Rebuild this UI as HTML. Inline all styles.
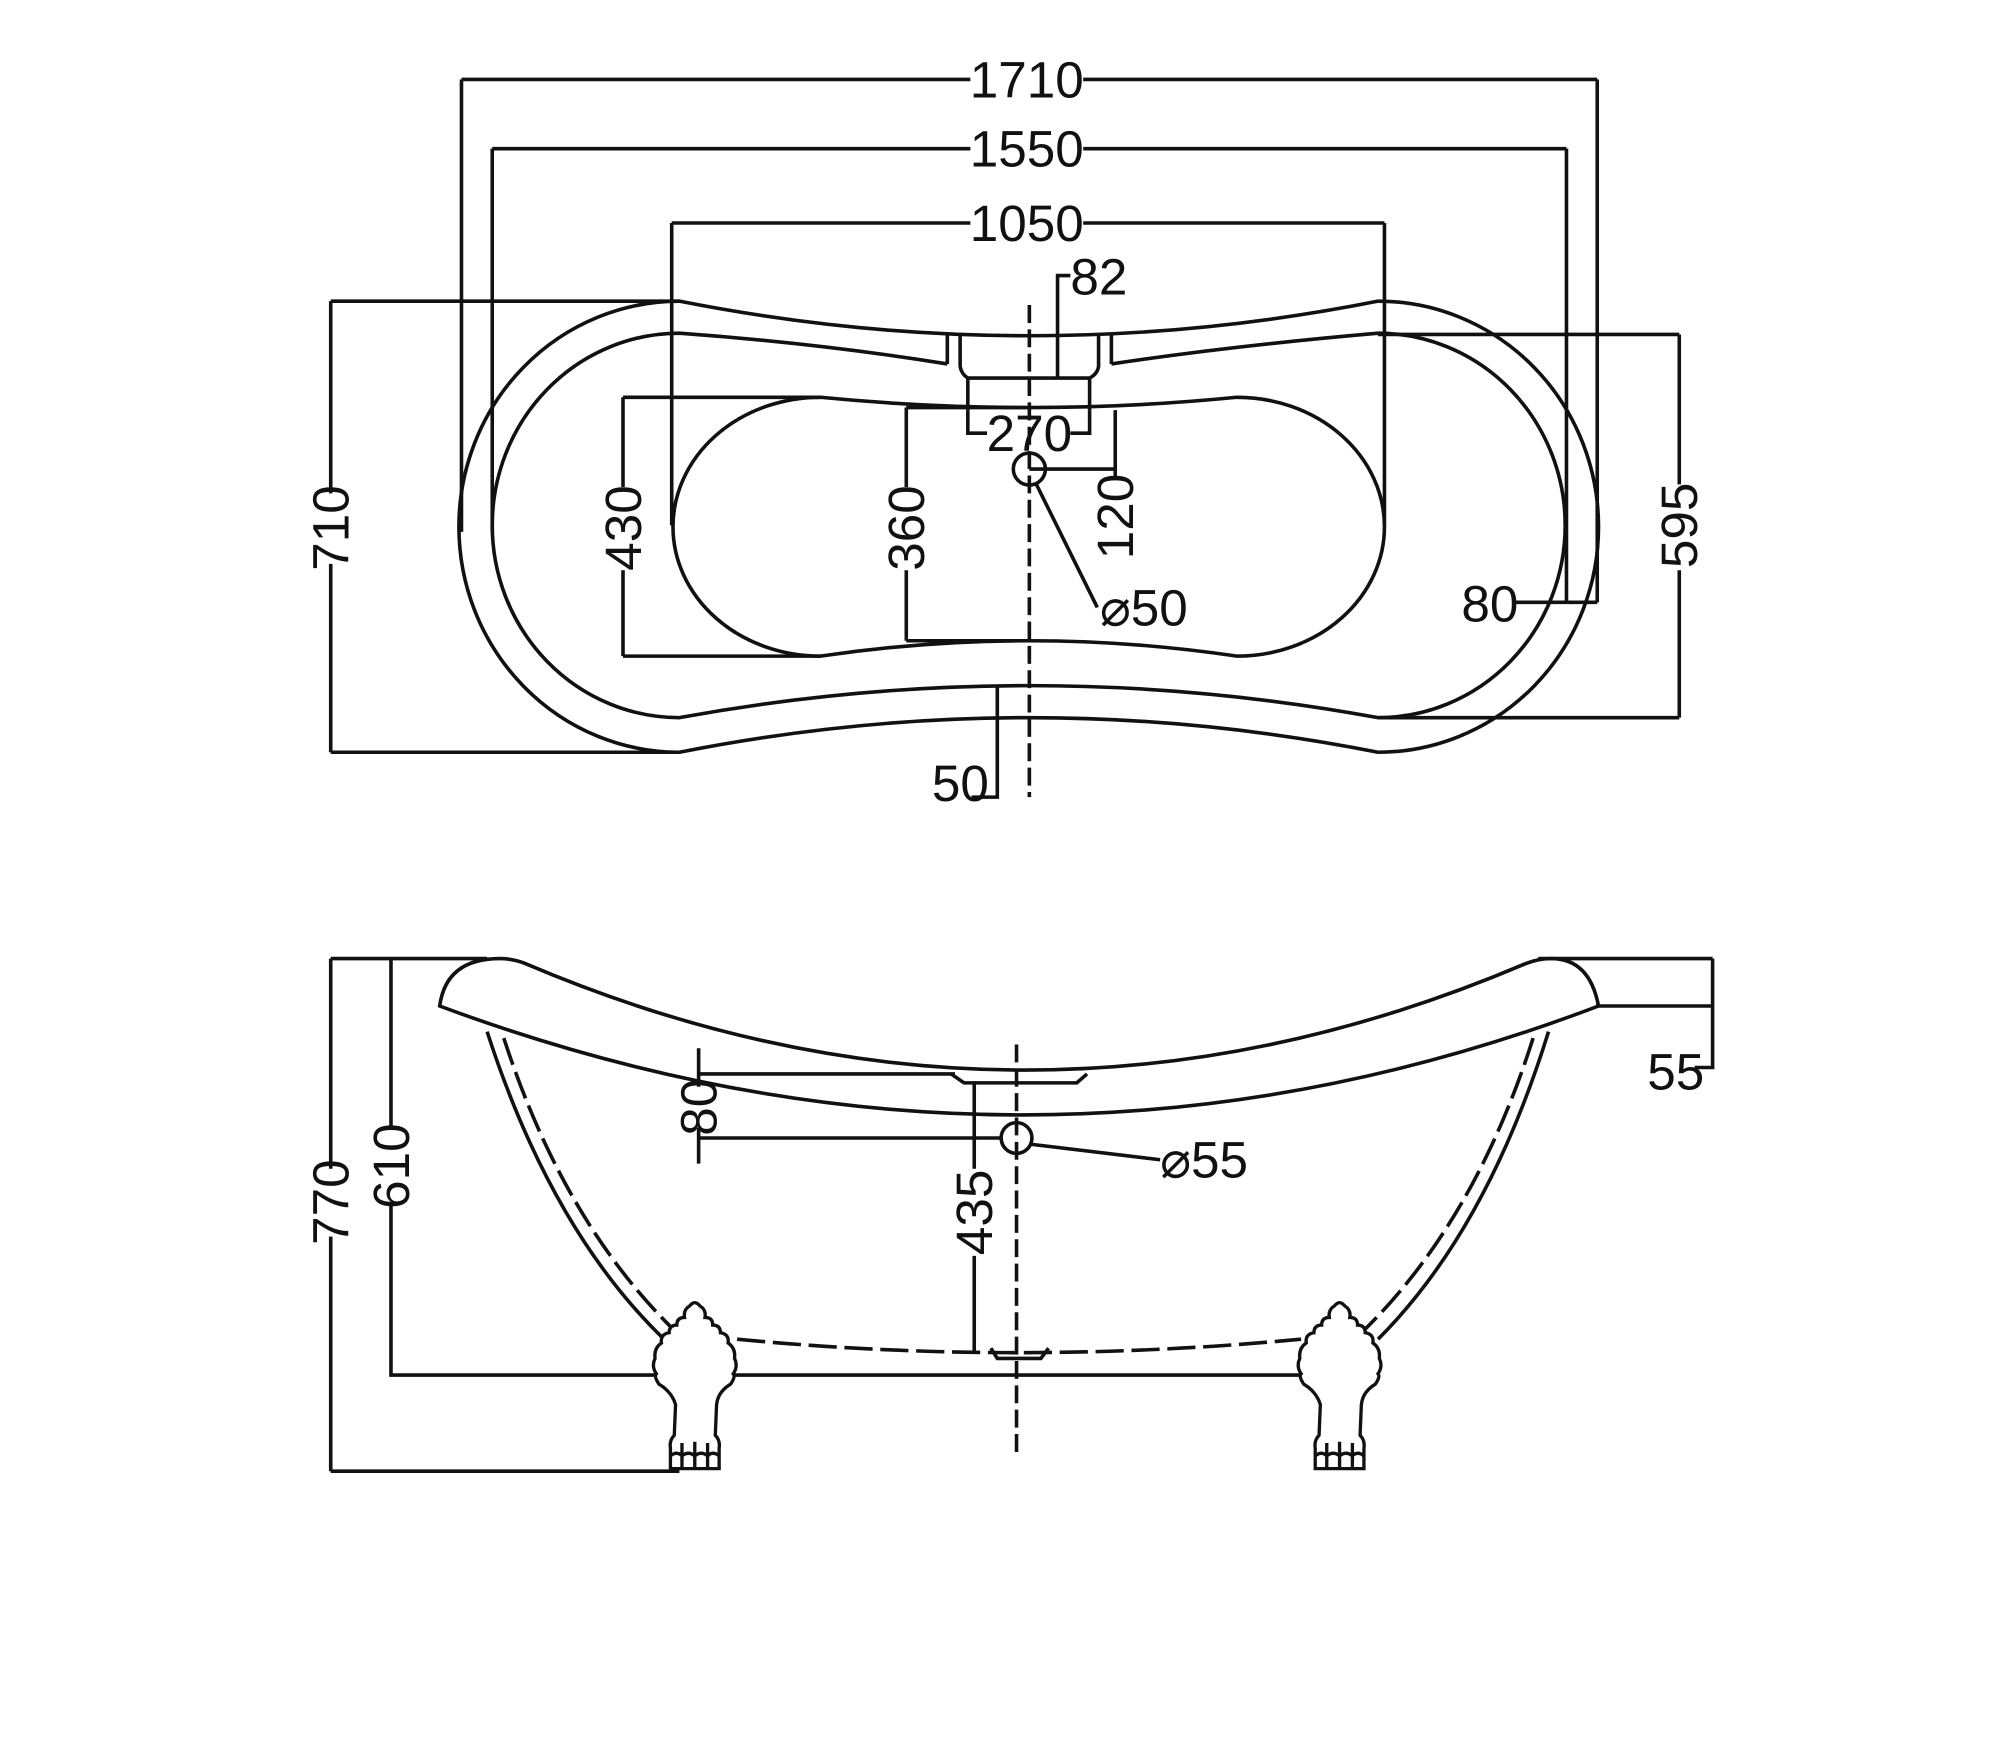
<!DOCTYPE html>
<html><head><meta charset="utf-8"><style>
html,body{margin:0;padding:0;background:#fff}
svg{display:block}
text{font-family:"Liberation Sans Narrow","Liberation Sans",sans-serif;font-size:40px;fill:#111}
</style></head><body>
<svg width="2010" height="1748" viewBox="0 0 1568 1364" preserveAspectRatio="none" xmlns="http://www.w3.org/2000/svg">
<defs>
<g id="foot" fill="#fff" stroke="#111" stroke-width="2.6">
<path d="M-4,1019 Q0,1014 4,1019 Q9,1022 8,1028 Q14,1028 14,1034 Q20,1034 20,1040 Q27,1041 26,1048 Q32,1052 31,1060 Q34,1066 30,1072 Q32,1074 28,1080 Q18,1086 17,1096 L16,1120 Q20,1124 19,1130 L19,1146 L-19,1146 L-19,1130 Q-20,1124 -16,1120 L-15,1096 Q-18,1086 -28,1080 Q-32,1074 -30,1072 Q-34,1066 -31,1060 Q-32,1052 -26,1048 Q-27,1041 -20,1040 Q-20,1034 -14,1034 Q-14,1028 -8,1028 Q-9,1022 -4,1019 Z"/>
<path d="M-19,1136 Q-14,1132 -10,1136 Q-5,1132 0,1136 Q5,1132 10,1136 Q14,1132 19,1136 M-10,1136 L-10,1146 M0,1136 L0,1146 M10,1136 L10,1146 M-10,1136 L-10,1126 M0,1136 L0,1125 M10,1136 L10,1126" fill="none"/>
</g>
</defs>
<g fill="none" stroke="#111" stroke-width="2.8">
<path d="M360,62 H757 M845,62 H1246 M360,62 V415 M1246,62 V470"/>
<path d="M384,116 H757 M845,116 H1222 M384,116 V415 M1222,116 V470"/>
<path d="M524,174 H757 M845,174 H1080 M524,174 V410 M1080,174 V410"/>
<path d="M1180,470 H1246"/>
<path d="M258,235 H530 M258,587 H530 M258,235 V385 M258,440 V587"/>
<path d="M486,310 H640 M486,512 H640 M486,310 V380 M486,445 V512"/>
<path d="M707,318 H800 M707,500 H800 M707,318 V380 M707,445 V500"/>
<path d="M1075,261 H1310 M1075,560 H1310 M1310,261 V378 M1310,445 V560"/>
<path d="M835,215 H825 V295"/>
<path d="M755,320 V338 H770 M835,338 H850 V320"/>
<path d="M803,366 H870 M870,320 V372"/>
<path d="M778,535 V622 H758"/>
<path d="M808,377 L856,474"/>
<circle cx="803" cy="366" r="12.5"/>
<path d="M530,235 Q803,289 1075,235 A172,176 0 0 1 1075,587 Q803,533 530,587 A172,176 0 0 1 530,235 Z"/>
<path d="M739,284 Q640,268 530,260 A146,150 0 0 0 530,560 Q803,510 1075,560 A146,150 0 0 0 1075,260 Q960,270 867,284"/>
<path d="M739,261 V284 M749,261 V286 Q750,292 755,295 M867,261 V284 M857,261 V286 Q856,292 850,295 M755,295 H850 V320 M755,295 V320"/>
<path d="M640,310 Q803,326 965,310 A115,101 0 0 1 965,512 Q803,488 640,512 A115,101 0 0 1 640,310 Z"/>
<path d="M803,238 V622" stroke-dasharray="14,5"/>
<path d="M343,785 Q348,748 390,748 Q400,748 410,752 Q800,918 1190,752 Q1200,748 1210,748 Q1240,748 1247,785 Q800,955 343,785 Z"/>
<path d="M380,805 Q430,960 518,1045 M1208,805 Q1160,960 1075,1045"/>
<path d="M393,810 Q440,955 528,1040 M1196,810 Q1150,955 1062,1040 M575,1045 Q793,1066 1015,1045" stroke-dasharray="22,6"/>
<path d="M742,838 L752,845 H840 L848,838"/>
<path d="M773,1052 L778,1060 H812 L818,1052"/>
<path d="M793,815 V1133" stroke-dasharray="14,5"/>
<circle cx="793" cy="888" r="12"/>
<path d="M805,893 L905,905"/>
<path d="M258,748 H380 M258,1148 H530 M258,748 V912 M258,965 V1148"/>
<path d="M305,748 V880 M305,940 V1073 H1020"/>
<path d="M1200,748 H1336 M1245,785 H1336 M1336,748 V833 H1322"/>
<path d="M545,818 V848 M545,880 V908 M545,838 H745 M545,888 H781"/>
<path d="M760,845 V912 M760,980 V1055"/>
</g>
<use href="#foot" x="542"/>
<use href="#foot" x="1045"/>
<g>
<text x="801" y="76" text-anchor="middle">1710</text>
<text x="801" y="130" text-anchor="middle">1550</text>
<text x="801" y="188" text-anchor="middle">1050</text>
<text x="835" y="230">82</text>
<text x="803" y="352" text-anchor="middle">270</text>
<text x="1140" y="485">80</text>
<text x="727" y="625">50</text>
<text x="858" y="488">⌀50</text>
<text transform="translate(272,412) rotate(-90)" text-anchor="middle">710</text>
<text transform="translate(500,412) rotate(-90)" text-anchor="middle">430</text>
<text transform="translate(721,412) rotate(-90)" text-anchor="middle">360</text>
<text transform="translate(884,403) rotate(-90)" text-anchor="middle">120</text>
<text transform="translate(1324,410) rotate(-90)" text-anchor="middle">595</text>
<text x="1285" y="850">55</text>
<text x="905" y="919">⌀55</text>
<text transform="translate(272,938) rotate(-90)" text-anchor="middle">770</text>
<text transform="translate(319,910) rotate(-90)" text-anchor="middle">610</text>
<text transform="translate(559,864) rotate(-90)" text-anchor="middle">80</text>
<text transform="translate(774,946) rotate(-90)" text-anchor="middle">435</text>
</g>
</svg>
</body></html>
